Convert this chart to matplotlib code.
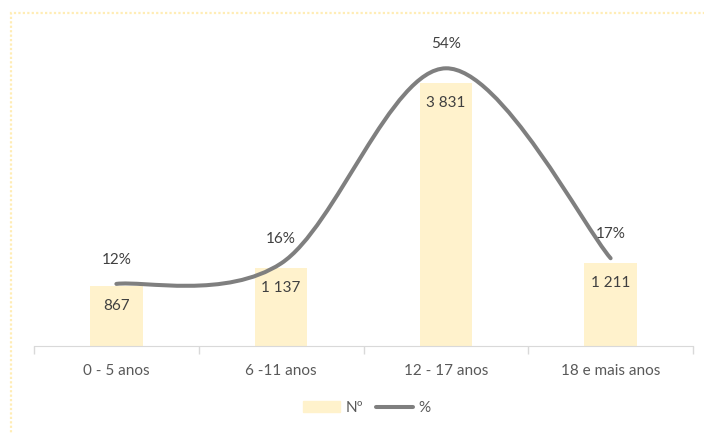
import numpy as np
import matplotlib.pyplot as plt
from matplotlib.path import Path
from matplotlib.patches import PathPatch, Rectangle
from matplotlib.lines import Line2D

plt.rcParams['font.family'] = ['Lato', 'DejaVu Sans']

categorias = ['0 - 5 anos', '6 -11 anos', '12 - 17 anos', '18 e mais anos']
numero = [867, 1137, 3831, 1211]
percent = [0.12, 0.16, 0.54, 0.17]
rotulos_num = ['867', '1 137', '3 831', '1 211']
rotulos_pct = ['12%', '16%', '54%', '17%']

cor_barra = '#FFF2CC'
cor_linha = '#7F7F7F'
cor_texto = '#404040'

W, H = 704, 434
fig = plt.figure(figsize=(W / 100, H / 100), dpi=100)

# moldura pontilhada (só se vê o lado esquerdo e o de cima)
fig.patches.append(Rectangle((11 / W, -0.1), 1.2, 1 - 13 / H + 0.1, transform=fig.transFigure,
                             fill=False, edgecolor='#FFEDB5', lw=1.6, ls=(0, (1, 1))))

ax = fig.add_axes([34 / W, 1 - 345.5 / H, 659 / W, 308 / H])
x = np.arange(len(categorias))
ax.bar(x, numero, width=0.32, color=cor_barra, zorder=1)
ax.set_xlim(-0.5, len(categorias) - 0.5)
ax.set_ylim(0, 4500)
ax.set_yticks([])
for s in ['left', 'right', 'top']:
    ax.spines[s].set_visible(False)
ax.spines['bottom'].set_color('#D9D9D9')
ax.set_xticks(x)
ax.set_xticklabels(categorias, fontsize=11, color='#595959')
ax.tick_params(axis='x', length=0, pad=13)
ax.set_xticks(np.arange(-0.5, len(categorias)), minor=True)
ax.tick_params(axis='x', which='minor', length=6, color='#D9D9D9', width=1)

for xi, v, t in zip(x, numero, rotulos_num):
    ax.annotate(t, (xi, v), xytext=(0, -20), textcoords='offset pixels',
                ha='center', va='center', fontsize=11, color=cor_texto)

ax2 = ax.twinx()
ax2.set_ylim(0, 0.6)
ax2.set_yticks([])
for s in ax2.spines.values():
    s.set_visible(False)

# linha suavizada (bezier tipo Excel)
pts = np.column_stack([x, percent]).astype(float)
verts = [pts[0]]
codes = [Path.MOVETO]
n = len(pts)
for i in range(n - 1):
    p0 = pts[i - 1] if i > 0 else pts[i]
    p3 = pts[i + 2] if i + 2 < n else pts[i + 1]
    c1 = pts[i] + (pts[i + 1] - p0) / 6
    c2 = pts[i + 1] - (p3 - pts[i]) / 6
    verts += [c1, c2, pts[i + 1]]
    codes += [Path.CURVE4] * 3
ax2.add_patch(PathPatch(Path(verts, codes), fill=False, edgecolor=cor_linha, lw=2.9,
                        capstyle='round', zorder=3))

for xi, v, t in zip(x, percent, rotulos_pct):
    ax2.annotate(t, (xi, v), xytext=(0, 24), textcoords='offset pixels',
                 ha='center', va='center', fontsize=11, color=cor_texto)

handles = [Rectangle((0, 0), 1, 1, color=cor_barra),
           Line2D([0], [0], color=cor_linha, lw=2.9, solid_capstyle='round')]
fig.legend(handles, ['Nº', '%'], loc='center', bbox_to_anchor=(367 / W, 1 - 408 / H),
           ncol=2, frameon=False, fontsize=11, handlelength=2.4, handletextpad=0.4,
           columnspacing=0.8, labelcolor='#595959')

fig.savefig('out.png', dpi=100)
